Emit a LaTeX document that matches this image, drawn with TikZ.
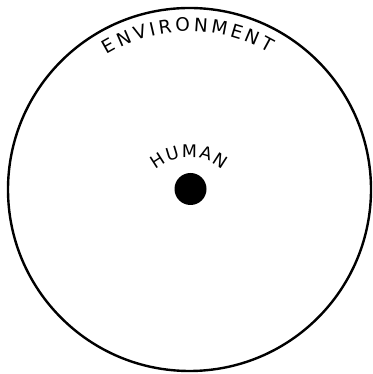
\documentclass[tikz,border=0pt]{standalone}
\usepackage{fontspec}
\setmainfont{DejaVu Sans}
% #1 centre, #2 radius, #3 start angle, #4 font size (pt), #5 gap (pt), #6 letter/width(em) list, #7 name prefix
\newcommand\curvetext[7]{%
  \xdef\mycurpos{0}%
  \foreach \ch/\chem [count=\i] in {#6}{%
    \pgfmathsetmacro\chw{\chem*#4}%
    \pgfmathsetmacro\chang{#3-(\mycurpos+0.5*\chw)*57.29578/#2}%
    \pgfmathsetmacro\chscale{#4/10}%
    \path (#1) ++(\chang:#2) node[letter, scale=\chscale, rotate=\chang-90] (#7\i) {\ch};%
    \pgfmathsetmacro\mynewpos{\mycurpos+\chw+#5}%
    \xdef\mycurpos{\mynewpos}%
  }%
}
\begin{document}
\begin{tikzpicture}[x=1pt,y=1pt,
  letter/.style={inner sep=0pt, anchor=base, font=\normalsize}]
\useasboundingbox (0,0) rectangle (372,374);
\node[circle, draw, line width=2.4pt, minimum size=363pt, inner sep=0pt] (env) at (189.5,184.5) {};
\node[circle, fill=black, minimum size=32pt, inner sep=0pt] (human) at (190.5,185) {};
\coordinate (envc) at (189.5,184.5);
\coordinate (humc) at (189,164.7);
\curvetext{envc}{158}{121.5}{18.5}{3.3}{E/.632,N/.748,V/.684,I/.295,R/.695,O/.787,N/.748,M/.863,E/.632,N/.748,T/.611}{envl}
\curvetext{humc}{52}{130}{17.5}{1.6}{H/.752,U/.732,M/.863,A/.684,N/.748}{huml}
\end{tikzpicture}
\end{document}
